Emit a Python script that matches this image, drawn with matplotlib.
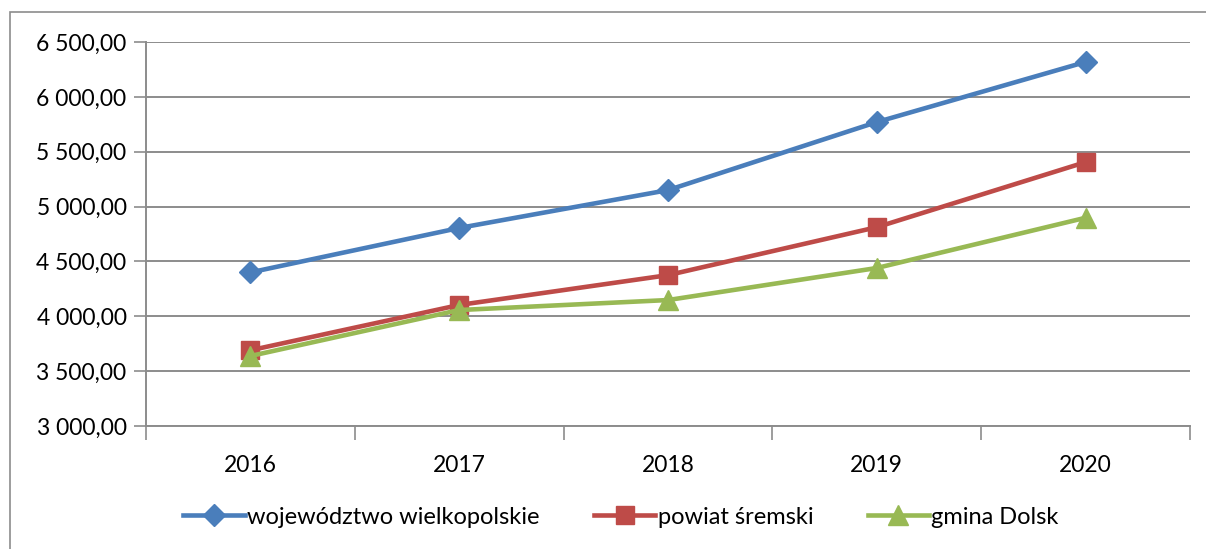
import matplotlib
matplotlib.use("Agg")
import matplotlib.pyplot as plt
from matplotlib.patches import Rectangle
from matplotlib.ticker import FuncFormatter, MultipleLocator

years = ["2016", "2017", "2018", "2019", "2020"]
woj = [4400, 4805, 5150, 5770, 6318]
powiat = [3690, 4103, 4375, 4812, 5405]
gmina = [3638, 4057, 4148, 4440, 4898]
labels = ["województwo wielkopolskie", "powiat śremski", "gmina Dolsk"]

plt.rcParams['font.family'] = ['Lato', 'DejaVu Sans']

fig = plt.figure(figsize=(12.06, 5.49), dpi=100)
ax = fig.add_axes([146/1206, 1-426/549, (1190-146)/1206, (426-42)/549])

fig.patches.append(Rectangle((10/1206, -0.1), 1.2, 1 - 12/549 + 0.1, transform=fig.transFigure,
                             fill=False, edgecolor='#8c8c8c', linewidth=1.2))

x = list(range(len(years)))
ax.plot(x, woj, color='#4a7ebb', lw=3.3, marker='D', ms=11, label=labels[0], zorder=3)
ax.plot(x, powiat, color='#be4b48', lw=3.3, marker='s', ms=13, label=labels[1], zorder=3)
ax.plot(x, gmina, color='#98b954', lw=3.3, marker='^', ms=14, label=labels[2], zorder=3)

ax.set_xlim(-0.5, 4.5)
ax.set_ylim(3000, 6500)
ax.yaxis.set_major_locator(MultipleLocator(500))
ax.yaxis.set_major_formatter(FuncFormatter(lambda v, p: f"{int(v):,}".replace(",", " ") + ",00"))
ax.set_xticks(x)
ax.set_xticklabels(years)
ax.set_xticks([i - 0.5 for i in range(6)], minor=True)
ax.tick_params(axis='x', which='major', length=0, pad=21, labelsize=16.5)
ax.tick_params(axis='x', which='minor', length=10, width=1.2, color='#8c8c8c')
ax.tick_params(axis='y', length=9, width=1.2, color='#8c8c8c', labelsize=16.5, pad=5)

ax.grid(axis='y', color='#8c8c8c', lw=1.4)
ax.set_axisbelow(True)
for s in ['top', 'right']:
    ax.spines[s].set_visible(False)
for s in ['left', 'bottom']:
    ax.spines[s].set_color('#8c8c8c')
    ax.spines[s].set_linewidth(1.4)

leg = fig.legend(loc='center', bbox_to_anchor=(0.515, 1 - 517/549), ncol=3, frameon=False,
                 fontsize=17, handlelength=2.6, handletextpad=0.1, columnspacing=2.3)

fig.savefig("out.png", dpi=100)
